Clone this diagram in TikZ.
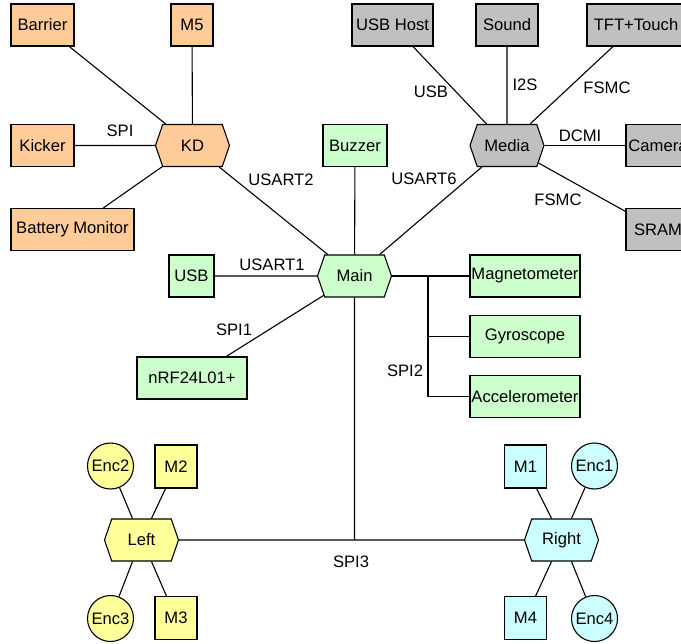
\documentclass[tikz,border=0pt]{standalone}
\usepackage{fontspec}
\setmainfont{Liberation Sans}
\usetikzlibrary{shapes.symbols,shapes.geometric}
\definecolor{corange}{HTML}{FFCC99}
\definecolor{cgreen}{HTML}{CCFFCC}
\definecolor{cgray}{HTML}{C0C0C0}
\definecolor{cyellow}{HTML}{FFFF99}
\definecolor{ccyan}{HTML}{CCFFFF}
\begin{document}
\begin{tikzpicture}[x=1bp,y=-1bp,line width=1.1bp,
  every node/.style={font=\fontsize{16.6bp}{19bp}\selectfont},
  box/.style={draw,rectangle,inner sep=0pt,minimum height=42bp},
  hexa/.style={draw,signal,signal to=east and west,signal pointer angle=142,
    minimum width=74bp,minimum height=42bp,inner sep=0pt},
  enc/.style={draw,circle,minimum size=46bp,inner sep=0pt},
  lbl/.style={inner sep=0pt},
  orange/.style={fill=corange}, green/.style={fill=cgreen},
  gray/.style={fill=cgray}, yellow/.style={fill=cyellow}, cyan/.style={fill=ccyan}]
\clip (0,0) rectangle (681,644);
\fill[white] (0,0) rectangle (681,644);
% KD group
\node[box,orange,minimum width=63bp] (Barrier) at (42.5,25) {Barrier};
\node[box,orange,minimum width=42bp] (M5) at (192,25) {M5};
\node[box,orange,minimum width=63bp] (Kicker) at (42.5,145.5) {Kicker};
\node[hexa,orange] (KD) at (192.5,145.5) {KD};
\node[box,orange,minimum width=123bp] (Battery) at (72.5,229.5) {Battery Monitor};
% Media group
\node[box,gray,minimum width=81bp] (USBHost) at (392.5,25) {USB Host};
\node[box,gray,minimum width=62bp] (Sound) at (507,25) {Sound};
\node[box,gray,minimum width=98bp] (TFT) at (636,25) {TFT+Touch};
\node[hexa,gray] (Media) at (507,145.5) {Media};
\node[box,gray,minimum width=64bp] (Camera) at (658,145.5) {Camera};
\node[box,gray,minimum width=64bp] (SRAM) at (658,229.5) {SRAM};
% Main group
\node[box,green,minimum width=64bp] (Buzzer) at (355,145.5) {Buzzer};
\node[box,green,minimum width=45bp] (USB) at (191.5,276) {USB};
\node[hexa,green] (Main) at (354.5,276) {Main};
\node[box,green,minimum width=110bp] (Magnetometer) at (525,276) {Magnetometer};
\node[box,green,minimum width=110bp] (Gyroscope) at (525,336.5) {Gyroscope};
\node[box,green,minimum width=110bp] (Accelerometer) at (525,396.5) {Accelerometer};
\node[box,green,minimum width=110bp] (nRF) at (192,378) {nRF24L01+};
% Left group
\node[enc,yellow] (Enc2) at (110.5,466) {Enc2};
\node[box,yellow,minimum width=42bp,minimum height=43bp] (M2) at (176,466.5) {M2};
\node[hexa,yellow] (Left) at (141.5,540) {Left};
\node[enc,yellow] (Enc3) at (110.5,618.5) {Enc3};
\node[box,yellow,minimum width=42bp,minimum height=43bp] (M3) at (176,618) {M3};
% Right group
\node[box,cyan,minimum width=42bp,minimum height=43bp] (M1) at (525.5,466.5) {M1};
\node[enc,cyan] (Enc1) at (594.5,466) {Enc1};
\node[hexa,cyan] (Right) at (561.5,540) {Right};
\node[box,cyan,minimum width=42bp,minimum height=43bp] (M4) at (525.5,618) {M4};
\node[enc,cyan] (Enc4) at (594.5,618.5) {Enc4};
% helper coordinates
\coordinate (spitwo) at (428,276);
\coordinate (spithree) at (Main |- Left);
% connectors
\draw (Barrier) -- (KD);
\draw (M5) -- (KD);
\draw (Kicker) -- (KD);
\draw (Battery) -- (KD);
\draw (KD) -- (Main);
\draw (USBHost) -- (Media);
\draw (Sound) -- (Media);
\draw (TFT) -- (Media);
\draw (Media) -- (Camera);
\draw (Media) -- (SRAM);
\draw (Media) -- (Main);
\draw (Buzzer) -- (Main);
\draw (USB) -- (Main);
\draw (nRF) -- (Main);
\draw[line width=1.8bp] (Main) -- (spitwo);
\draw (spitwo) -- (Magnetometer);
\draw (spitwo) |- (Gyroscope);
\draw (spitwo) |- (Accelerometer);
\draw (Main) -- (spithree);
\draw (Left) -- (Right);
\draw (Enc2) -- ([xshift=-9bp]Left.north);
\draw (M2) -- ([xshift=10bp]Left.north);
\draw (Enc3) -- ([xshift=-9bp]Left.south);
\draw (M3) -- ([xshift=10bp]Left.south);
\draw (M1) -- ([xshift=-10bp]Right.north);
\draw (Enc1) -- ([xshift=10bp]Right.north);
\draw (M4) -- ([xshift=-10bp]Right.south);
\draw (Enc4) -- ([xshift=10bp]Right.south);
% labels
\node[lbl] (lspi) at (120,131) {SPI};
\node[lbl] (lusarttwo) at (281,180) {USART2};
\node[lbl] (lusartsix) at (424,179) {USART6};
\node[lbl] (lusb) at (431,92) {USB};
\node[lbl] (lis) at (525,85) {I2S};
\node[lbl] (lfsmca) at (607,88) {FSMC};
\node[lbl] (ldcmi) at (580,136) {DCMI};
\node[lbl] (lfsmcb) at (558,200) {FSMC};
\node[lbl] (lusartone) at (272,265) {USART1};
\node[lbl] (lspione) at (234,330) {SPI1};
\node[lbl] (lspitwo) at (405,371) {SPI2};
\node[lbl] (lspithree) at (351,562) {SPI3};
\end{tikzpicture}
\end{document}
